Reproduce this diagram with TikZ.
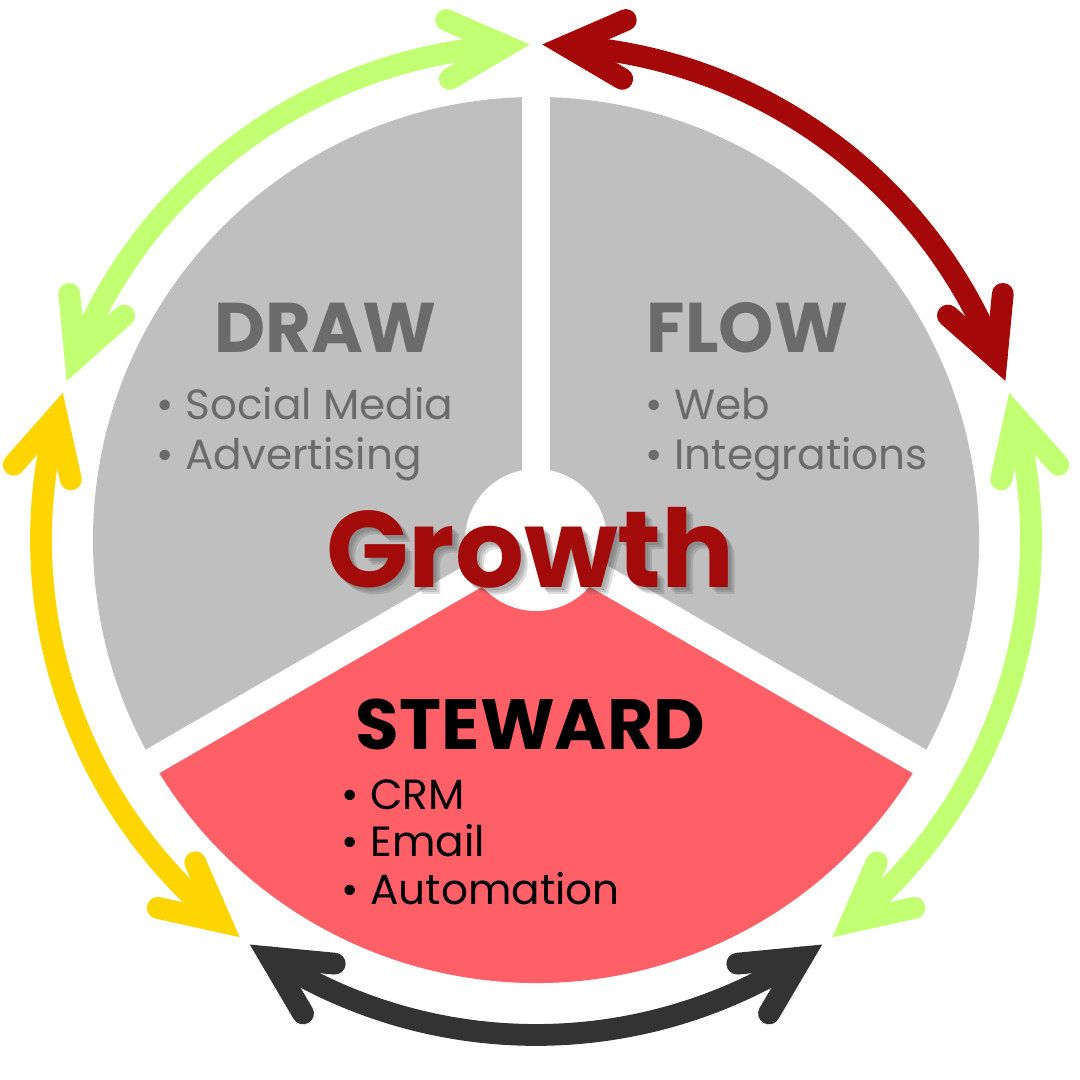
\documentclass[tikz,border=0pt]{standalone}
\usepackage{fontspec}
\setmainfont{Poppins}
\usetikzlibrary{calc}
\definecolor{sectgray}{HTML}{BFBFBF}
\definecolor{sectred}{HTML}{FF5F66}
\definecolor{textgray}{HTML}{6B6B6B}
\definecolor{growthred}{HTML}{A30A0A}
\definecolor{ringgreen}{HTML}{C2FF72}
\definecolor{ringred}{HTML}{A50808}
\definecolor{ringyellow}{HTML}{FFD500}
\definecolor{ringdark}{HTML}{333333}

\begin{document}
\begin{tikzpicture}[x=0.01cm, y=0.01cm,
    ring/.style={draw, line width=6.2pt, line cap=round, line join=miter},
    head/.style={font=\fontsize{20}{24}\selectfont\bfseries, inner sep=0pt, anchor=base},
    item/.style={font=\fontsize{12}{15}\selectfont, inner sep=0pt, anchor=base west},
    shade/.style={head, black!70, opacity=0.18, font=\fontsize{30.8}{36}\selectfont\bfseries}]
    \useasboundingbox (0,0) rectangle (1080,1080);
    % center
    \coordinate(C)at(536,540);
    % sectors
    \path[fill=sectgray](C)--++(90:443)arc[start angle=90,end angle=210,radius=443]--cycle;
    \path[fill=sectgray](C)--++(-30:443)arc[start angle=-30,end angle=90,radius=443]--cycle;
    \path[fill=sectred](C)--++(210:443)arc[start angle=210,end angle=330,radius=443]--cycle;
    % gaps
    \path[draw=white, line width=7.7pt](C)--++(90:460);
    \path[draw=white, line width=7.7pt](C)--++(210:460);
    \path[draw=white, line width=7.7pt](C)--++(330:460);
    \path[fill=white](C)circle(71);
    % ring: ends of the arcs
    \coordinate(gA)at($(C)+(158.5:495)$);
    \coordinate(gB)at($(C)+(93.5:495)$);
    \coordinate(yA)at($(C)+(230.5:495)$);
    \coordinate(yB)at($(C)+(165.5:495)$);
    \coordinate(kA)at($(C)+(302.5:495)$);
    \coordinate(kB)at($(C)+(237.5:495)$);
    \coordinate(hA)at($(C)+(374.5:495)$);
    \coordinate(hB)at($(C)+(309.5:495)$);
    \coordinate(rA)at($(C)+(86.5:495)$);
    \coordinate(rB)at($(C)+(21.5:495)$);
    % green, top left
    \path[ring, ringgreen](gA)arc[start angle=158.5,end angle=93.5,radius=495];
    \path[ring, ringgreen]($(gA)+(95.5:65)$)--(gA)--($(gA)+(41.5:65)$);
    \path[ring, ringgreen]($(gB)+(210.5:65)$)--(gB)--($(gB)+(156.5:65)$);
    % yellow
    \path[ring, ringyellow](yA)arc[start angle=230.5,end angle=165.5,radius=495];
    \path[ring, ringyellow]($(yA)+(113.5:65)$)--(yA)--($(yA)+(167.5:65)$);
    \path[ring, ringyellow]($(yB)+(228.5:65)$)--(yB)--($(yB)+(282.5:65)$);
    % dark, bottom
    \path[ring, ringdark](kA)arc[start angle=302.5,end angle=237.5,radius=495];
    \path[ring, ringdark]($(kA)+(185.5:65)$)--(kA)--($(kA)+(239.5:65)$);
    \path[ring, ringdark]($(kB)+(300.5:65)$)--(kB)--($(kB)+(354.5:65)$);
    % green, right
    \path[ring, ringgreen](hA)arc[start angle=374.5,end angle=309.5,radius=495];
    \path[ring, ringgreen]($(hA)+(257.5:65)$)--(hA)--($(hA)+(311.5:65)$);
    \path[ring, ringgreen]($(hB)+(12.5:65)$)--(hB)--($(hB)+(66.5:65)$);
    % red, top right
    \path[ring, ringred](rA)arc[start angle=86.5,end angle=21.5,radius=495];
    \path[ring, ringred]($(rA)+(-30.5:65)$)--(rA)--($(rA)+(23.5:65)$);
    \path[ring, ringred]($(rB)+(84.5:65)$)--(rB)--($(rB)+(138.5:65)$);
    % DRAW
    \node[head, textgray](draw)at(325.5,727){DRAW};
    \node[item, textgray](social)at(156,660){\textbullet\ Social Media};
    \node[item, textgray](advert)at(156,610){\textbullet\ Advertising};
    % FLOW
    \node[head, textgray](flow)at(747.5,727){FLOW};
    \node[item, textgray](web)at(645,660){\textbullet\ Web};
    \node[item, textgray](integr)at(645,610){\textbullet\ Integrations};
    % STEWARD
    \node[head, black, font=\fontsize{20.2}{24}\selectfont\bfseries](steward)at(530.5,330){STEWARD};
    \node[item, black](crm)at(341,270){\textbullet\ CRM};
    \node[item, black](email)at(341,223){\textbullet\ Email};
    \node[item, black](autom)at(341,175){\textbullet\ Automation};
    % Growth, with a soft shadow
    \node[shade](shadow1)at(533.5,489){Growth};
    \node[shade](shadow2)at(535.5,487){Growth};
    \node[shade](shadow3)at(537.5,485){Growth};
    \node[head, growthred, font=\fontsize{30.8}{36}\selectfont\bfseries](growth)at(530.5,492){Growth};
\end{tikzpicture}
\end{document}
